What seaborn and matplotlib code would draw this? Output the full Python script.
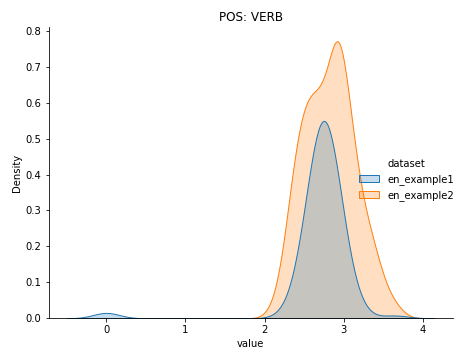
import numpy as np
import pandas as pd
import matplotlib
matplotlib.use("Agg")
import matplotlib.pyplot as plt
import seaborn as sns

# observed values (value grid + how many times each occurs)
ex1_values = [0.0, 2.3, 2.4, 2.5, 2.6, 2.7, 2.8, 2.9, 3.0, 3.1, 3.2, 3.65]
ex1_counts = [2, 1, 2, 7, 16, 25, 25, 16, 7, 2, 1, 1]

ex2_values = [2.1, 2.2, 2.3, 2.4, 2.5, 2.6, 2.7, 2.8, 2.9, 2.95, 3.0,
              3.1, 3.2, 3.3, 3.4, 3.5, 3.6, 3.7]
ex2_counts = [1, 3, 10, 17, 20, 21, 20, 21, 24, 11, 19,
              19, 11, 9, 7, 3, 2, 1]

datasets = ["en_example1", "en_example2"]

df = pd.DataFrame({
    "value": np.concatenate([np.repeat(ex1_values, ex1_counts),
                             np.repeat(ex2_values, ex2_counts)]),
    "dataset": [datasets[0]] * sum(ex1_counts) + [datasets[1]] * sum(ex2_counts),
})

# kde per dataset, filled, legend on the right
g = sns.displot(data=df, x="value", hue="dataset", kind="kde", fill=True)
g.ax.set_title("POS: VERB")
g.figure.subplots_adjust(left=0.105, right=0.978, bottom=0.116, top=0.924)
g.figure.savefig("out.png", dpi=72)
